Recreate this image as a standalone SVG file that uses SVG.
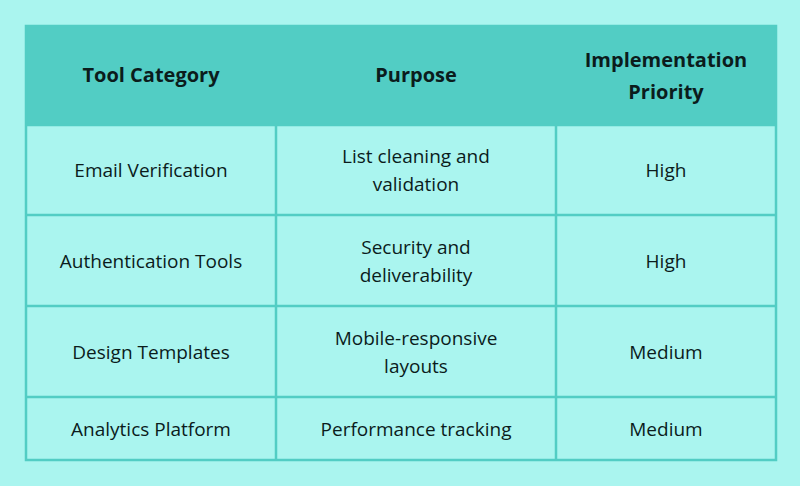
<svg xmlns="http://www.w3.org/2000/svg" width="800" height="486" viewBox="0 0 800 486">
<style>
.h{font-family:"Open Sans",sans-serif;font-weight:700;font-size:20px;fill:#0b1c1c;text-anchor:middle}
.t{font-family:"Open Sans",sans-serif;font-size:19px;fill:#0b1c1c;text-anchor:middle}
.g{stroke:#52cdc4;stroke-width:2.5;fill:none}
</style>
<rect width="800" height="486" fill="#aaf5ef"/>
<g id="header">
<rect x="25" y="25" width="752" height="100" fill="#52cdc4"/>
<text class="h" x="151" y="82">Tool Category</text>
<text class="h" x="416" y="82">Purpose</text>
<text class="h" x="666" y="67">Implementation</text>
<text class="h" x="666" y="99">Priority</text>
</g>
<g id="grid">
<rect class="g" x="26" y="26" width="750" height="434"/>
<path class="g" d="M26 125H776M26 215H776M26 306H776M26 397H776M276 125V460M556 125V460"/>
</g>
<g id="row1">
<text class="t" x="151" y="177">Email Verification</text>
<text class="t" x="416" y="163">List cleaning and</text>
<text class="t" x="416" y="191">validation</text>
<text class="t" x="666" y="177">High</text>
</g>
<g id="row2">
<text class="t" x="151" y="268">Authentication Tools</text>
<text class="t" x="416" y="254">Security and</text>
<text class="t" x="416" y="282">deliverability</text>
<text class="t" x="666" y="268">High</text>
</g>
<g id="row3">
<text class="t" x="151" y="359">Design Templates</text>
<text class="t" x="416" y="345">Mobile-responsive</text>
<text class="t" x="416" y="373">layouts</text>
<text class="t" x="666" y="359">Medium</text>
</g>
<g id="row4">
<text class="t" x="151" y="436">Analytics Platform</text>
<text class="t" x="416" y="436">Performance tracking</text>
<text class="t" x="666" y="436">Medium</text>
</g>
</svg>
